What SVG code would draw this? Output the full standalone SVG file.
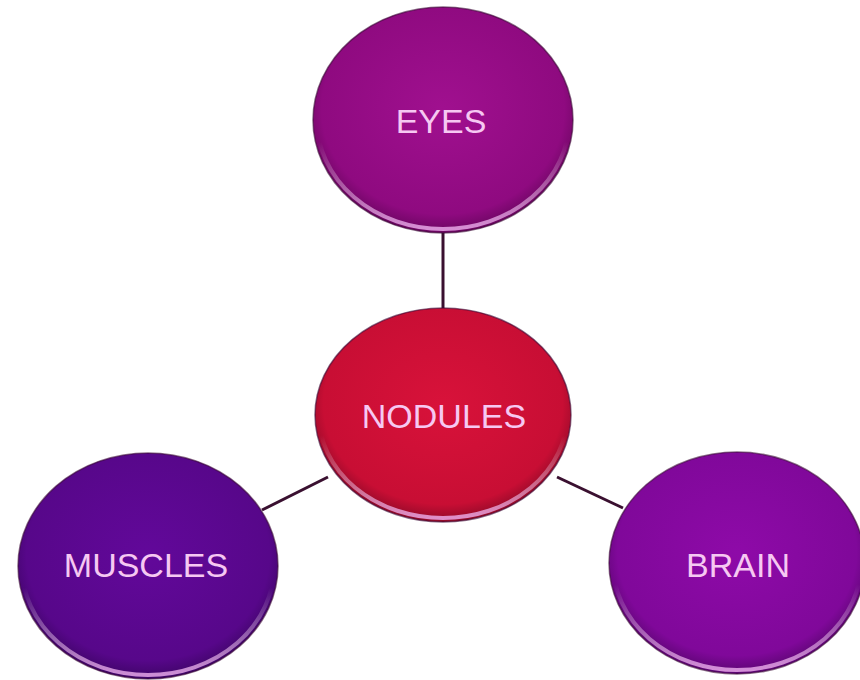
<svg xmlns="http://www.w3.org/2000/svg" width="860" height="680" viewBox="0 0 860 680">
<defs>
<radialGradient id="gEyes" cx="0.5" cy="0.45" r="0.55">
<stop offset="0" stop-color="#a0108f"/>
<stop offset="0.85" stop-color="#8f0a80"/>
<stop offset="1" stop-color="#6a0660"/>
</radialGradient>
<radialGradient id="gNod" cx="0.5" cy="0.45" r="0.55">
<stop offset="0" stop-color="#d8123a"/>
<stop offset="0.85" stop-color="#c80e34"/>
<stop offset="1" stop-color="#8e0a28"/>
</radialGradient>
<radialGradient id="gMus" cx="0.5" cy="0.45" r="0.55">
<stop offset="0" stop-color="#62089a"/>
<stop offset="0.85" stop-color="#57078a"/>
<stop offset="1" stop-color="#3e0566"/>
</radialGradient>
<radialGradient id="gBrain" cx="0.5" cy="0.45" r="0.55">
<stop offset="0" stop-color="#8e0aa8"/>
<stop offset="0.85" stop-color="#80089a"/>
<stop offset="1" stop-color="#5a0670"/>
</radialGradient>
<linearGradient id="rim" x1="0" y1="0" x2="0" y2="1">
<stop offset="0" stop-color="#ffffff" stop-opacity="0"/>
<stop offset="0.6" stop-color="#ffffff" stop-opacity="0"/>
<stop offset="1" stop-color="#f0b0f0" stop-opacity="0.8"/>
</linearGradient>
<style>
.lbl{font-family:"Liberation Sans",Arial,sans-serif;font-size:34px;fill:#f6c8f2;text-anchor:middle}
.edge{stroke:#3a1030;stroke-width:3;fill:none}
.rim{fill:none;stroke:url(#rim);stroke-width:4}
.out{fill:none;stroke:#3a0a36;stroke-width:1.5;stroke-opacity:0.6}
</style>
</defs>
<rect width="860" height="680" fill="#ffffff"/>
<g id="connectors">
<line class="edge" x1="443" y1="232" x2="443" y2="309"/>
<line class="edge" x1="328" y1="477" x2="262" y2="510"/>
<line class="edge" x1="557" y1="477" x2="623" y2="508"/>
</g>
<g id="eyes">
<ellipse cx="443" cy="120" rx="130" ry="113" fill="url(#gEyes)"/>
<ellipse class="rim" cx="443" cy="120" rx="126" ry="109"/>
<ellipse class="out" cx="443" cy="120" rx="130" ry="113"/>
<text class="lbl" x="441" y="133">EYES</text>
</g>
<g id="nodules">
<ellipse cx="443" cy="415" rx="128" ry="107" fill="url(#gNod)"/>
<ellipse class="rim" cx="443" cy="415" rx="124" ry="103"/>
<ellipse class="out" cx="443" cy="415" rx="128" ry="107"/>
<text class="lbl" x="444" y="428">NODULES</text>
</g>
<g id="muscles">
<ellipse cx="148" cy="566" rx="130" ry="113" fill="url(#gMus)"/>
<ellipse class="rim" cx="148" cy="566" rx="126" ry="109"/>
<ellipse class="out" cx="148" cy="566" rx="130" ry="113"/>
<text class="lbl" x="146" y="577">MUSCLES</text>
</g>
<g id="brain">
<ellipse cx="737" cy="563" rx="128" ry="111" fill="url(#gBrain)"/>
<ellipse class="rim" cx="737" cy="563" rx="124" ry="107"/>
<ellipse class="out" cx="737" cy="563" rx="128" ry="111"/>
<text class="lbl" x="738" y="577">BRAIN</text>
</g>
</svg>
